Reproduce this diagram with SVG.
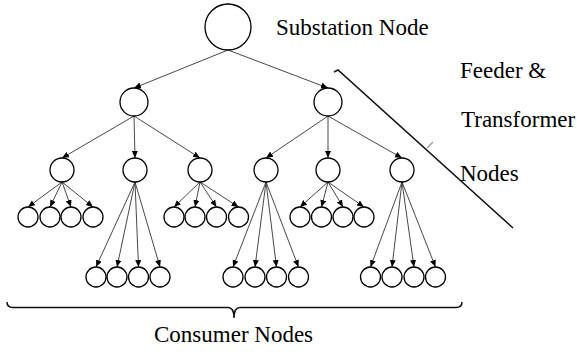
<svg xmlns="http://www.w3.org/2000/svg" width="577" height="352" viewBox="0 0 577 352">
<style>
.n{fill:#fff;stroke:#000;stroke-width:1.3}
.c{stroke:#333;stroke-width:0.9;fill:none;marker-end:url(#ah)}
.t{font-family:"Liberation Serif","Times New Roman",serif;font-size:23px;fill:#000}
.b{fill:none;stroke:#111;stroke-width:1.5}
</style>
<defs>
<marker id="ah" markerUnits="userSpaceOnUse" markerWidth="8" markerHeight="7" refX="7" refY="3" orient="auto">
<path d="M0,0 L7,3 L0,6 z" fill="#000"/>
</marker>
</defs>
<rect width="577" height="352" fill="#fff"/>
<g id="connectors">
<line class="c" x1="228" y1="50" x2="134" y2="88"/>
<line class="c" x1="228" y1="50" x2="328" y2="88"/>
<line class="c" x1="134" y1="116" x2="62" y2="158"/>
<line class="c" x1="134" y1="116" x2="135" y2="158"/>
<line class="c" x1="134" y1="116" x2="200" y2="158"/>
<line class="c" x1="328" y1="116" x2="266" y2="158"/>
<line class="c" x1="328" y1="116" x2="328" y2="158"/>
<line class="c" x1="328" y1="116" x2="402" y2="158"/>
<line class="c" x1="62" y1="182" x2="28" y2="207"/>
<line class="c" x1="62" y1="182" x2="50" y2="207"/>
<line class="c" x1="62" y1="182" x2="71" y2="207"/>
<line class="c" x1="62" y1="182" x2="93" y2="207"/>
<line class="c" x1="135" y1="182" x2="96" y2="267"/>
<line class="c" x1="135" y1="182" x2="117" y2="267"/>
<line class="c" x1="135" y1="182" x2="138.5" y2="267"/>
<line class="c" x1="135" y1="182" x2="160" y2="267"/>
<line class="c" x1="200" y1="182" x2="174" y2="207"/>
<line class="c" x1="200" y1="182" x2="195" y2="207"/>
<line class="c" x1="200" y1="182" x2="216.5" y2="207"/>
<line class="c" x1="200" y1="182" x2="238.5" y2="207"/>
<line class="c" x1="266" y1="182" x2="233" y2="267"/>
<line class="c" x1="266" y1="182" x2="255" y2="267"/>
<line class="c" x1="266" y1="182" x2="276.5" y2="267"/>
<line class="c" x1="266" y1="182" x2="298.5" y2="267"/>
<line class="c" x1="328" y1="182" x2="300" y2="207"/>
<line class="c" x1="328" y1="182" x2="321.5" y2="207"/>
<line class="c" x1="328" y1="182" x2="343" y2="207"/>
<line class="c" x1="328" y1="182" x2="364" y2="207"/>
<line class="c" x1="402" y1="182" x2="370.5" y2="267"/>
<line class="c" x1="402" y1="182" x2="392" y2="267"/>
<line class="c" x1="402" y1="182" x2="414" y2="267"/>
<line class="c" x1="402" y1="182" x2="435.5" y2="267"/>
</g>
<g id="root"><circle class="n" cx="228" cy="27" r="23"/></g>
<g id="feeder-a"><circle class="n" cx="134" cy="102" r="14"/></g>
<g id="feeder-b"><circle class="n" cx="328" cy="102" r="14"/></g>
<g id="tr-a1"><circle class="n" cx="62" cy="170" r="12"/></g>
<g id="tr-a2"><circle class="n" cx="135" cy="170" r="12"/></g>
<g id="tr-a3"><circle class="n" cx="200" cy="170" r="12"/></g>
<g id="tr-b1"><circle class="n" cx="266" cy="170" r="12"/></g>
<g id="tr-b2"><circle class="n" cx="328" cy="170" r="12"/></g>
<g id="tr-b3"><circle class="n" cx="402" cy="170" r="12"/></g>
<g id="cons-a1">
<circle class="n" cx="28" cy="217" r="10"/><circle class="n" cx="50" cy="217" r="10"/><circle class="n" cx="71" cy="217" r="10"/><circle class="n" cx="93" cy="217" r="10"/>
</g>
<g id="cons-a2">
<circle class="n" cx="96" cy="277" r="10"/><circle class="n" cx="117" cy="277" r="10"/><circle class="n" cx="138.5" cy="277" r="10"/><circle class="n" cx="160" cy="277" r="10"/>
</g>
<g id="cons-a3">
<circle class="n" cx="174" cy="217" r="10"/><circle class="n" cx="195" cy="217" r="10"/><circle class="n" cx="216.5" cy="217" r="10"/><circle class="n" cx="238.5" cy="217" r="10"/>
</g>
<g id="cons-b1">
<circle class="n" cx="233" cy="277" r="10"/><circle class="n" cx="255" cy="277" r="10"/><circle class="n" cx="276.5" cy="277" r="10"/><circle class="n" cx="298.5" cy="277" r="10"/>
</g>
<g id="cons-b2">
<circle class="n" cx="300" cy="217" r="10"/><circle class="n" cx="321.5" cy="217" r="10"/><circle class="n" cx="343" cy="217" r="10"/><circle class="n" cx="364" cy="217" r="10"/>
</g>
<g id="cons-b3">
<circle class="n" cx="370.5" cy="277" r="10"/><circle class="n" cx="392" cy="277" r="10"/><circle class="n" cx="414" cy="277" r="10"/><circle class="n" cx="435.5" cy="277" r="10"/>
</g>
<g id="labels">
<text class="t" x="276" y="35">Substation Node</text>
<text class="t" x="460" y="78">Feeder &amp;</text>
<text class="t" x="461" y="127">Transformer</text>
<text class="t" x="460" y="181">Nodes</text>
<text class="t" x="154" y="342">Consumer Nodes</text>
</g>
<g id="braces">
<path class="b" d="M334,72 L338,70 L513,228"/>
<path d="M427,148 L433,142" stroke="#999" stroke-width="1.2" fill="none"/>
<path class="b" d="M7,302 Q7,307.5 13,307.5 L228,307.5 Q234,307.5 234,318 Q234,307.5 240,307.5 L456,307.5 Q462,307.5 462,302"/>
</g>
</svg>
